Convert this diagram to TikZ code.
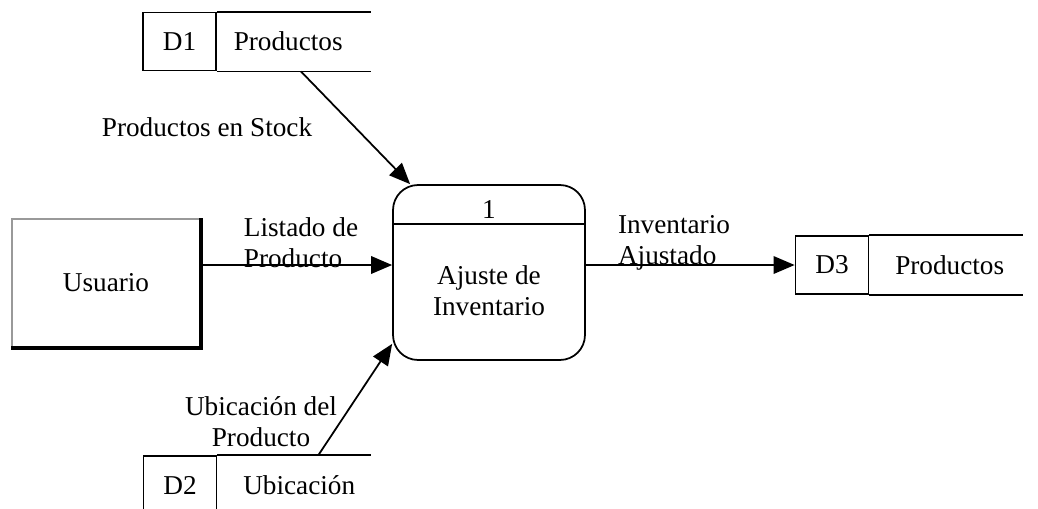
\documentclass[tikz,border=0pt]{standalone}
\usepackage{fontspec}
\setmainfont{Liberation Serif}
\usetikzlibrary{calc}
\usetikzlibrary{arrows.meta}
\usetikzlibrary{positioning}

\tikzset{
 ext/.style={draw=black!40, minimum width=3.76cm, minimum height=2.56cm},
 proc/.style={draw, rounded corners=0.5cm, minimum width=3.84cm, minimum height=3.5cm},
 dbox/.style={draw, minimum width=1.46cm, minimum height=1.16cm},
}

\begin{document}
\begin{tikzpicture}[x=0.02cm, y=-0.02cm, line width=1pt, >={Triangle[length=12pt,width=10pt]}, font=\fontsize{15.5}{17.5}\selectfont]
\clip (0,0) rectangle (1038,508);
% entidad externa
\node[ext] (usr) at (106,283) {Usuario};
\draw[line width=2pt] (usr.north east) -- (usr.south east) -- (usr.south west);
% proceso
\node[proc] (proc) at (489,272.5) {};
\draw ($(proc.north west)+(0,40)$) -- ($(proc.north east)+(0,40)$);
\node (pnum) at ($(proc.north)+(0,25)$) {1};
\node[align=center] (pname) at ($(proc.center)+(0,18)$) {Ajuste de\\Inventario};
% almacenes
\foreach \n/\x/\y/\d/\t in {D1/179.5/41.5/16/Productos, D2/180/485/25/Ubicación, D3/832/265/25/Productos} {
 \node[dbox] (\n) at (\x,\y) {\n};
 \node[anchor=west, inner sep=0] (\n-t) at ($(\n.east)+(\d,0)$) {\t};
 \draw (\n.north east) -- ++(154,0);
 \draw (\n.south east) -- ++(154,0);
}
\coordinate (lvl) at (0,265);
% flujos
\draw[->] ($(D1.south east)+(84,0)$) -- ($(proc.north west)+(18,0)$);
\draw[->] (usr.east |- lvl) -- (proc.west |- lvl);
\draw[->] (proc.east |- lvl) -- (D3.west |- lvl);
\draw[->] ($(D2.north east)+(101,0)$) -- ($(proc.south west)+(0,-17)$);
\node (l1) at (207,127) {Productos en Stock};
\node[align=left] (l2) at (301,243) {Listado de\\Producto};
\node[align=left] (l3) at (674,243) {Inventario\\Ajustado};
\node[align=center] (l4) at (261,422) {Ubicación del\\Producto};
\end{tikzpicture}
\end{document}
